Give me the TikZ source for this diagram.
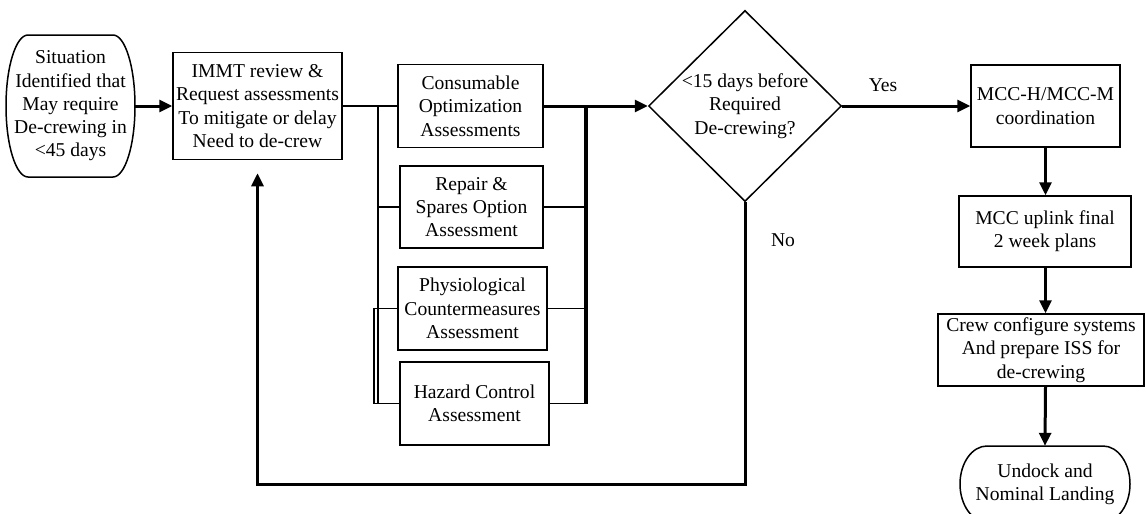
\documentclass[tikz,border=0pt]{standalone}
\usepackage{fontspec}
\setmainfont{Liberation Serif}
\usetikzlibrary{arrows.meta,shapes.geometric,calc}
\begin{document}
\begin{tikzpicture}[x=1pt,y=-1pt,
  every node/.style={font=\fontsize{19.6}{23.3}\selectfont, inner sep=0pt, align=center},
  procbox/.style={draw, line width=1.5pt, rectangle},
  decbox/.style={draw, line width=1.5pt, diamond, minimum width=193pt, minimum height=190pt},
  outline/.style={line width=1.5pt},
  bus/.style={line width=1.8pt},
  flow/.style={line width=3pt, -{Triangle[length=13pt,width=12pt]}},
  lbl/.style={}
]
\useasboundingbox (0,0) rectangle (1146,514);

% start terminator
\node[minimum width=129pt, minimum height=142pt] (start) at (70.5,106)
  {Situation\\Identified that\\May require\\De-crewing in\\<45 days};
\draw[outline] (28,35) -- (113,35) .. controls (125.1,35) and (135,66.8) .. (135,106)
  .. controls (135,145.2) and (125.1,177) .. (113,177) -- (28,177)
  .. controls (15.9,177) and (6,145.2) .. (6,106)
  .. controls (6,66.8) and (15.9,35) .. (28,35) -- cycle;

\node[procbox, minimum width=169pt, minimum height=107pt] (immt) at (257.5,106)
  {IMMT review \&\\Request assessments\\To mitigate or delay\\Need to de-crew};

\node[procbox, minimum width=145pt, minimum height=83pt] (cons) at (470.5,106)
  {Consumable\\Optimization\\Assessments};
\node[procbox, minimum width=143pt, minimum height=82pt] (rep) at (471.5,207)
  {Repair \&\\Spares Option\\Assessment};
\node[procbox, minimum width=149pt, minimum height=83pt] (phy) at (472.5,308.5)
  {Physiological\\Countermeasures\\Assessment};
\node[procbox, minimum width=149pt, minimum height=83pt] (haz) at (474.5,403.5)
  {Hazard Control\\Assessment};

\node[decbox] (dec) at (745,106) {<15 days before\\Required\\De-crewing?};

\node[procbox, minimum width=149pt, minimum height=82pt] (mcch) at (1045.5,106)
  {MCC-H/MCC-M\\coordination};
\node[procbox, minimum width=172pt, minimum height=71pt] (upl) at (1045,231.5)
  {MCC uplink final\\2 week plans};
\node[procbox, minimum width=206pt, minimum height=72pt] (crew) at (1041,350)
  {Crew configure systems\\And prepare ISS for\\de-crewing};

% end terminator
\node[minimum width=170pt, minimum height=76pt] (undock) at (1045,484)
  {Undock and\\Nominal Landing};
\draw[outline] (987,446) -- (1103,446) .. controls (1117.9,446) and (1130,463) .. (1130,484)
  .. controls (1130,505) and (1117.9,522) .. (1103,522) -- (987,522)
  .. controls (972.1,522) and (960,505) .. (960,484)
  .. controls (960,463) and (972.1,446) .. (987,446) -- cycle;

% labels
\node[lbl] (yes) at (883,85) {Yes};
\node[lbl] (no) at (783,240) {No};

% connectors
\draw[flow] (start.east) -- (immt.west);
\draw[bus] (immt.east) -- ++(35,0) coordinate (lb) -- (cons.west);
\draw[bus] (lb) |- (rep.west);
\draw[bus] (lb) |- (phy.west);
\draw[bus] (lb) |- (haz.west);
\draw[bus] (phy.west) -- ++(-23,0) |- (haz.west);
\coordinate (rb) at ($(cons.east)+(41,0)$);
\draw[bus] (rep.east) -| (rb);
\draw[bus] (phy.east) -| (rb);
\draw[bus] (haz.east) -| (rb);
\draw[bus] (haz.east) -| ([xshift=2pt]rb);
\draw[flow] (cons.east) -- (dec.west);
\draw[flow] (dec.east) -- (mcch.west);
\draw[flow] (mcch.south) -- (mcch.south |- upl.north);
\draw[flow] (mcch.south |- upl.south) -- (mcch.south |- crew.north);
\draw[flow] (mcch.south |- crew.south) -- (undock.north);

\coordinate (fb) at ($(immt.south)+(0,13)$);
\coordinate (low) at (0,484);
\draw[flow] (dec.south) -- (dec.south |- low) -| (fb);
\end{tikzpicture}
\end{document}
